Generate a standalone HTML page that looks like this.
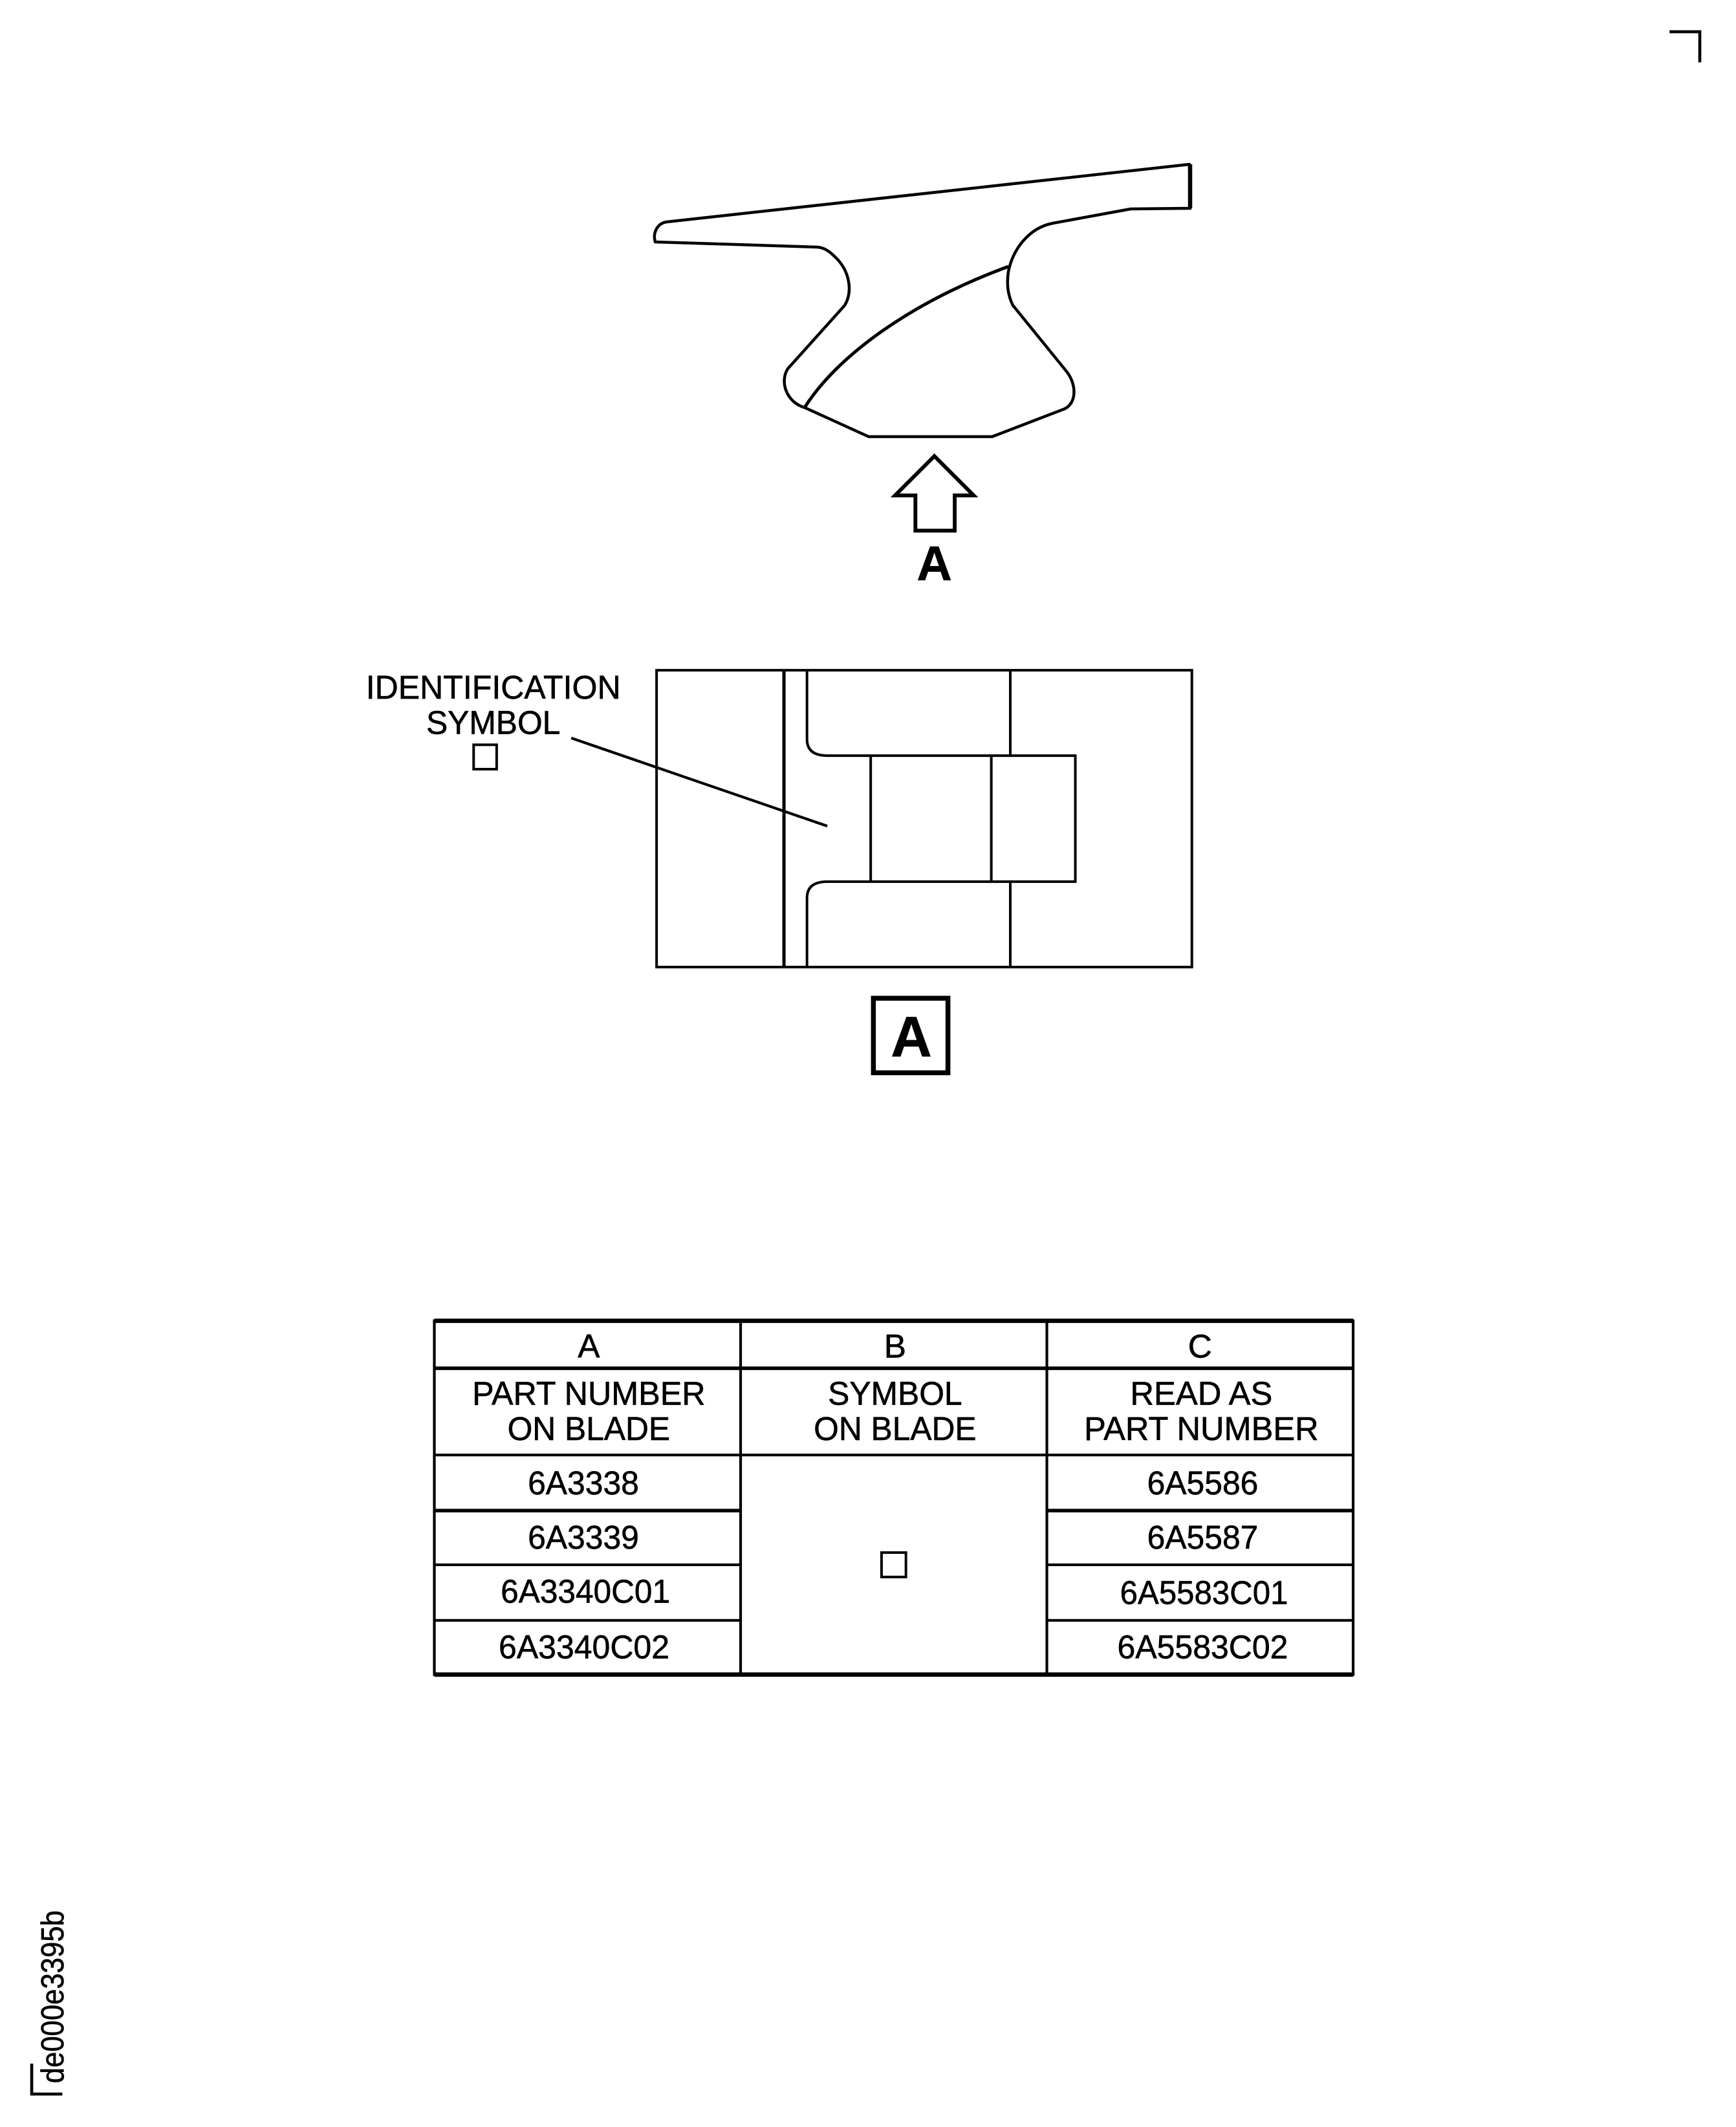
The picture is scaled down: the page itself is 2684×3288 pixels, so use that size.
<!DOCTYPE html>
<html>
<head>
<meta charset="utf-8">
<style>
html,body{margin:0;padding:0;background:#fff;width:2684px;height:3288px;overflow:hidden}
svg{display:block}
text{font-family:"Liberation Sans",sans-serif;fill:#000;stroke:#000;stroke-width:.3}
.l{fill:none;stroke:#000;stroke-width:1.9;stroke-linejoin:miter;stroke-linecap:butt}
.t{font-size:24.5px;text-anchor:middle}
</style>
</head>
<body>
<svg width="2684" height="3288" viewBox="0 0 2684 3288" xmlns="http://www.w3.org/2000/svg">
<rect x="0" y="0" width="2684" height="3288" fill="#fff"/>
<!-- blade profile in real pixels -->
<g transform="translate(1,0)">
<path d="M1030 343L1838 254L1839 322L1747 323L1627 345C1590 352 1565 385 1558 420C1555 440 1558 458 1565 472L1647 573C1663 592 1665 622 1645 632L1533 675H1342L1243 630C1215 622 1204 590 1217 570L1305 472C1318 450 1312 420 1293 400C1283 390 1275 383 1263 382L1012 374C1008 360 1015 345 1030 343Z" fill="none" stroke="#000" stroke-width="4.5" stroke-linejoin="round"/>
<path d="M1839 254V322" fill="none" stroke="#000" stroke-width="6.500"/>
<path d="M1243 630C1290 555 1400 470 1558 412" fill="none" stroke="#000" stroke-width="5"/>
</g>
<g transform="scale(2.0952)">
<!-- corner marks -->
<path class="l" d="M1232 23.400H1254.300V46" style="stroke-width:2.2"/>
<path class="l" d="M23.400 1522.500V1545H46" style="stroke-width:2.2"/>
<text transform="translate(46.800,1537) rotate(-90)" font-size="23.500" textLength="127.500" lengthAdjust="spacingAndGlyphs">de000e3395b</text>
<g transform="translate(.5,.5)">
<!-- arrow -->
<path class="l" d="M689 336L718 365H704V391H675V365H660Z" style="stroke-width:2.800"/>
<text x="689" y="427.500" font-size="36" font-weight="bold" text-anchor="middle">A</text>

<!-- view A -->
<rect class="l" x="484" y="494" width="395" height="219"/>
<path class="l" d="M578 494V713" style="stroke-width:2.4"/>
<path class="l" d="M595 494V545Q595 557 610 557H793V650H610Q595 650 595 662V713"/>
<path class="l" d="M745 494V557M745 650V713M642 557V650M731 557V650"/>
<path class="l" d="M421 544L610 609" style="stroke-width:2"/>
<text class="t" x="363.500" y="515" textLength="188" lengthAdjust="spacingAndGlyphs">IDENTIFICATION</text>
<text class="t" x="363.500" y="541" textLength="99" lengthAdjust="spacingAndGlyphs">SYMBOL</text>
<rect class="l" x="349" y="549" width="17" height="18"/>
<rect class="l" x="644" y="736" width="55" height="55" style="stroke-width:3.6"/>
<text x="672" y="779" font-size="42" font-weight="bold" text-anchor="middle">A</text>

<!-- table -->
<path class="l" d="M320 974H998M320 1235H998" style="stroke-width:3.2"/>
<path class="l" d="M320 973V1236M998 973V1236M546 974V1235M772 974V1235M320 1073H998M320 1154H546M772 1154H998M320 1195H546M772 1195H998" style="stroke-width:2"/>
<path class="l" d="M320 1009H998M320 1114H546M772 1114H998" style="stroke-width:2.6"/>
<text class="t" x="434" y="1001">A</text>
<text class="t" x="660" y="1001">B</text>
<text class="t" x="885" y="1001">C</text>
<text class="t" x="434" y="1036" textLength="172" lengthAdjust="spacingAndGlyphs">PART NUMBER</text>
<text class="t" x="434" y="1062" textLength="120" lengthAdjust="spacingAndGlyphs">ON BLADE</text>
<text class="t" x="660" y="1036" textLength="99" lengthAdjust="spacingAndGlyphs">SYMBOL</text>
<text class="t" x="660" y="1062" textLength="120" lengthAdjust="spacingAndGlyphs">ON BLADE</text>
<text class="t" x="886" y="1036" textLength="105" lengthAdjust="spacingAndGlyphs">READ AS</text>
<text class="t" x="886" y="1062" textLength="173" lengthAdjust="spacingAndGlyphs">PART NUMBER</text>
<text class="t" x="430" y="1102" textLength="82" lengthAdjust="spacingAndGlyphs">6A3338</text>
<text class="t" x="430" y="1142" textLength="82" lengthAdjust="spacingAndGlyphs">6A3339</text>
<text class="t" x="431.500" y="1182" textLength="125" lengthAdjust="spacingAndGlyphs">6A3340C01</text>
<text class="t" x="430.500" y="1223" textLength="126" lengthAdjust="spacingAndGlyphs">6A3340C02</text>
<text class="t" x="887" y="1102" textLength="82" lengthAdjust="spacingAndGlyphs">6A5586</text>
<text class="t" x="887" y="1142" textLength="82" lengthAdjust="spacingAndGlyphs">6A5587</text>
<text class="t" x="888" y="1183" textLength="124" lengthAdjust="spacingAndGlyphs">6A5583C01</text>
<text class="t" x="887" y="1223" textLength="126" lengthAdjust="spacingAndGlyphs">6A5583C02</text>
<rect class="l" x="650" y="1145" width="18" height="18"/>
</g>
</g>
</svg>
</body>
</html>
